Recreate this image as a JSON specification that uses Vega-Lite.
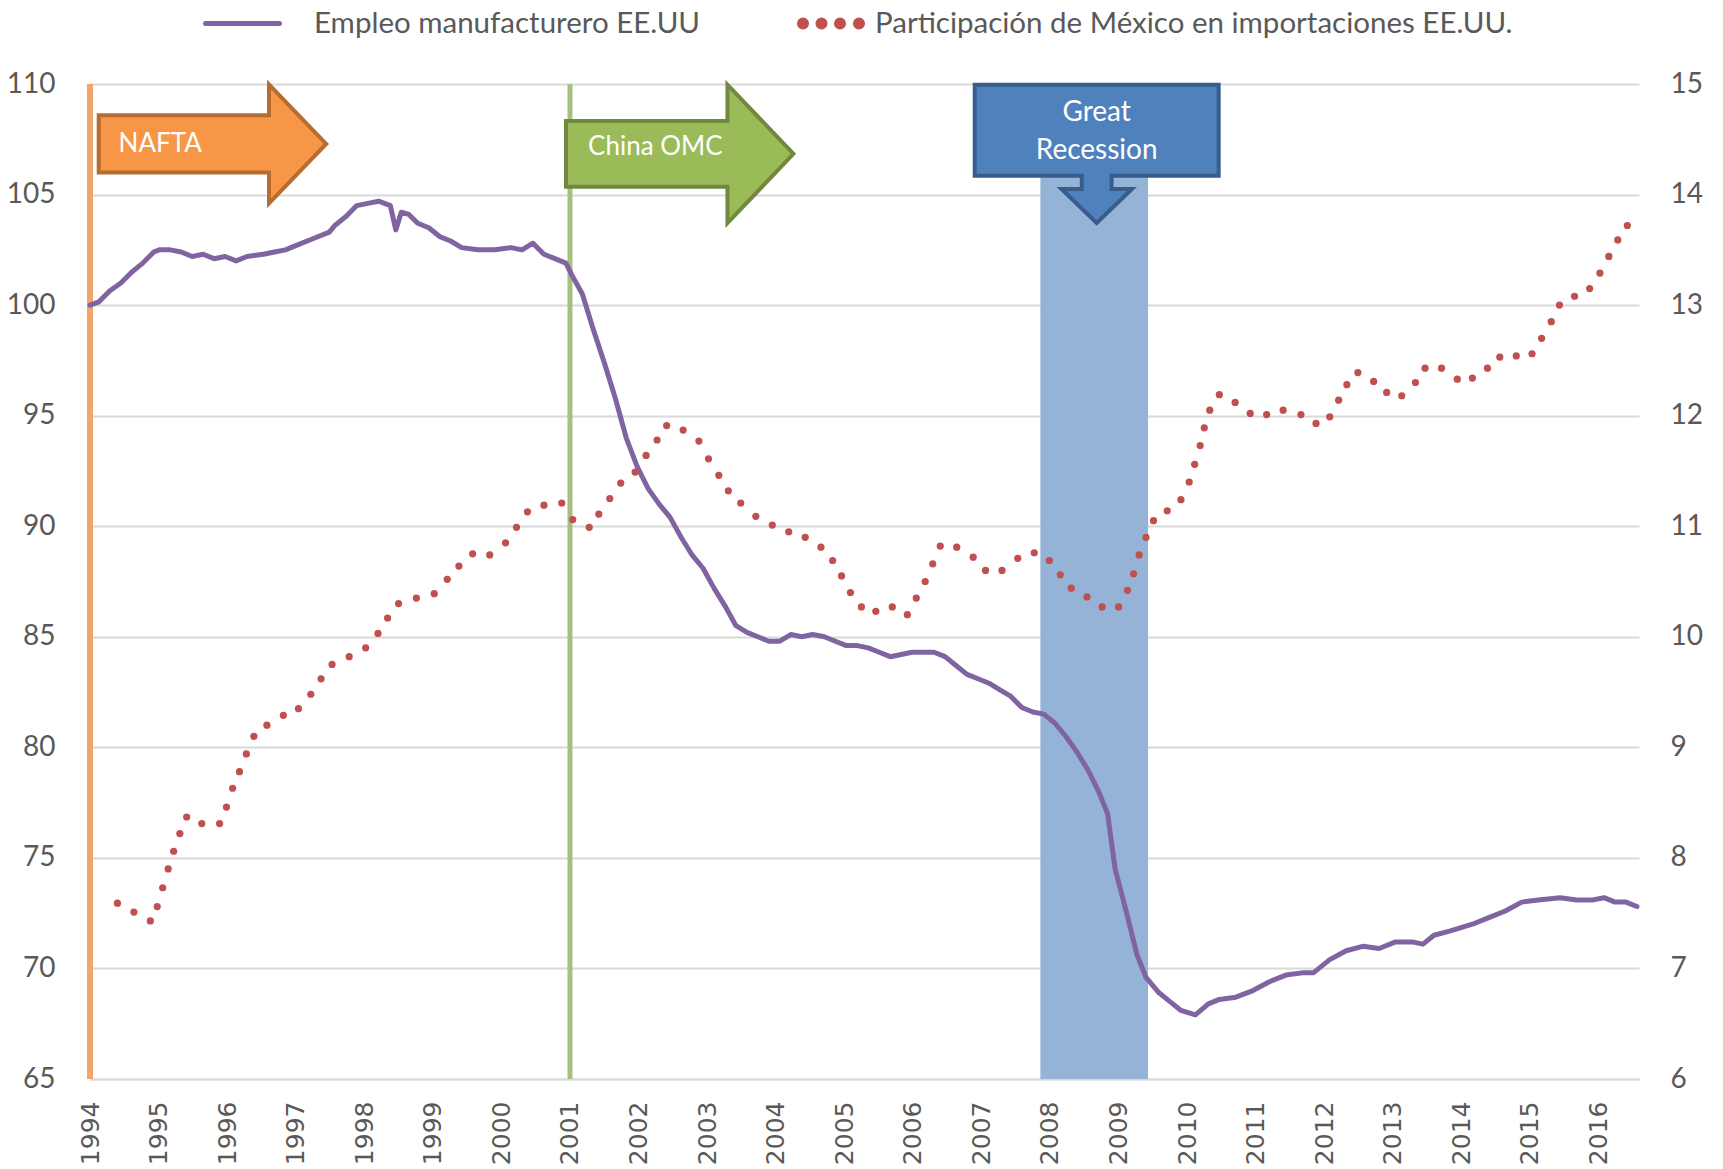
{
  "$schema": "https://vega.github.io/schema/vega-lite/v6.json",
  "autosize": "none",
  "width": 1549,
  "height": 995,
  "padding": {"left": 90, "top": 84, "right": 84, "bottom": 90},
  "background": "white",
  "config": {
    "view": {"stroke": null},
    "axisLeft": {"grid": true, "gridColor": "#D9D9D9", "gridWidth": 2, "domain": false, "ticks": false, "labelPadding": 35, "labelFont": "Lato", "labelFontSize": 28, "labelColor": "#595959", "title": null},
    "axisRight": {"grid": false, "domain": false, "ticks": false, "labelPadding": 31, "labelFont": "Lato", "labelFontSize": 28, "labelColor": "#595959", "title": null},
    "axisBottom": {"grid": false, "domain": true, "domainColor": "#D9D9D9", "domainWidth": 2, "ticks": false, "labelPadding": 22, "labelFont": "DejaVu Sans", "labelFontSize": 25, "labelColor": "#595959", "title": null}
  },
  "datasets": {
    "empleo": [
      {"anio": 1994.00, "v": 100.0}, {"anio": 1994.13, "v": 100.15}, {"anio": 1994.29, "v": 100.65}, {"anio": 1994.45, "v": 101.0},
      {"anio": 1994.61, "v": 101.5}, {"anio": 1994.77, "v": 101.9}, {"anio": 1994.93, "v": 102.4}, {"anio": 1995.01, "v": 102.5},
      {"anio": 1995.17, "v": 102.5}, {"anio": 1995.33, "v": 102.4}, {"anio": 1995.49, "v": 102.2}, {"anio": 1995.65, "v": 102.3},
      {"anio": 1995.81, "v": 102.1}, {"anio": 1995.97, "v": 102.2}, {"anio": 1996.13, "v": 102.0}, {"anio": 1996.29, "v": 102.2},
      {"anio": 1996.53, "v": 102.3}, {"anio": 1996.69, "v": 102.4}, {"anio": 1996.85, "v": 102.5}, {"anio": 1997.01, "v": 102.7},
      {"anio": 1997.25, "v": 103.0}, {"anio": 1997.49, "v": 103.3}, {"anio": 1997.57, "v": 103.6}, {"anio": 1997.73, "v": 104.0},
      {"anio": 1997.89, "v": 104.5}, {"anio": 1998.05, "v": 104.6}, {"anio": 1998.21, "v": 104.7}, {"anio": 1998.38, "v": 104.5},
      {"anio": 1998.46, "v": 103.4}, {"anio": 1998.54, "v": 104.2}, {"anio": 1998.65, "v": 104.1}, {"anio": 1998.78, "v": 103.7},
      {"anio": 1998.94, "v": 103.5}, {"anio": 1999.10, "v": 103.1}, {"anio": 1999.26, "v": 102.9}, {"anio": 1999.42, "v": 102.6},
      {"anio": 1999.66, "v": 102.5}, {"anio": 1999.90, "v": 102.5}, {"anio": 2000.14, "v": 102.6}, {"anio": 2000.30, "v": 102.5},
      {"anio": 2000.46, "v": 102.8}, {"anio": 2000.62, "v": 102.3}, {"anio": 2000.78, "v": 102.1}, {"anio": 2000.94, "v": 101.9},
      {"anio": 2001.02, "v": 101.4}, {"anio": 2001.18, "v": 100.5}, {"anio": 2001.34, "v": 98.9}, {"anio": 2001.50, "v": 97.4},
      {"anio": 2001.66, "v": 95.8}, {"anio": 2001.82, "v": 94.0}, {"anio": 2001.98, "v": 92.7}, {"anio": 2002.14, "v": 91.7},
      {"anio": 2002.30, "v": 91.0}, {"anio": 2002.46, "v": 90.4}, {"anio": 2002.62, "v": 89.5}, {"anio": 2002.78, "v": 88.7},
      {"anio": 2002.94, "v": 88.1}, {"anio": 2003.10, "v": 87.2}, {"anio": 2003.26, "v": 86.4}, {"anio": 2003.42, "v": 85.5},
      {"anio": 2003.58, "v": 85.2}, {"anio": 2003.74, "v": 85.0}, {"anio": 2003.90, "v": 84.8}, {"anio": 2004.06, "v": 84.8},
      {"anio": 2004.22, "v": 85.1}, {"anio": 2004.38, "v": 85.0}, {"anio": 2004.54, "v": 85.1}, {"anio": 2004.71, "v": 85.0},
      {"anio": 2004.87, "v": 84.8}, {"anio": 2005.03, "v": 84.6}, {"anio": 2005.19, "v": 84.6}, {"anio": 2005.35, "v": 84.5},
      {"anio": 2005.51, "v": 84.3}, {"anio": 2005.67, "v": 84.1}, {"anio": 2005.83, "v": 84.2}, {"anio": 2005.99, "v": 84.3},
      {"anio": 2006.15, "v": 84.3}, {"anio": 2006.31, "v": 84.3}, {"anio": 2006.47, "v": 84.1}, {"anio": 2006.63, "v": 83.7},
      {"anio": 2006.79, "v": 83.3}, {"anio": 2006.95, "v": 83.1}, {"anio": 2007.11, "v": 82.9}, {"anio": 2007.27, "v": 82.6},
      {"anio": 2007.43, "v": 82.3}, {"anio": 2007.59, "v": 81.8}, {"anio": 2007.75, "v": 81.6}, {"anio": 2007.91, "v": 81.5},
      {"anio": 2008.07, "v": 81.1}, {"anio": 2008.23, "v": 80.5}, {"anio": 2008.39, "v": 79.8}, {"anio": 2008.55, "v": 79.0},
      {"anio": 2008.71, "v": 78.0}, {"anio": 2008.84, "v": 77.0}, {"anio": 2008.95, "v": 74.5}, {"anio": 2009.11, "v": 72.6},
      {"anio": 2009.27, "v": 70.6}, {"anio": 2009.40, "v": 69.6}, {"anio": 2009.59, "v": 68.9}, {"anio": 2009.75, "v": 68.5},
      {"anio": 2009.91, "v": 68.1}, {"anio": 2010.12, "v": 67.9}, {"anio": 2010.31, "v": 68.4}, {"anio": 2010.47, "v": 68.6},
      {"anio": 2010.71, "v": 68.7}, {"anio": 2010.96, "v": 69.0}, {"anio": 2011.20, "v": 69.4}, {"anio": 2011.44, "v": 69.7},
      {"anio": 2011.68, "v": 69.8}, {"anio": 2011.84, "v": 69.8}, {"anio": 2012.08, "v": 70.4}, {"anio": 2012.32, "v": 70.8},
      {"anio": 2012.56, "v": 71.0}, {"anio": 2012.80, "v": 70.9}, {"anio": 2013.04, "v": 71.2}, {"anio": 2013.28, "v": 71.2},
      {"anio": 2013.44, "v": 71.1}, {"anio": 2013.60, "v": 71.5}, {"anio": 2013.84, "v": 71.7}, {"anio": 2014.16, "v": 72.0},
      {"anio": 2014.40, "v": 72.3}, {"anio": 2014.64, "v": 72.6}, {"anio": 2014.88, "v": 73.0}, {"anio": 2015.12, "v": 73.1},
      {"anio": 2015.44, "v": 73.2}, {"anio": 2015.68, "v": 73.1}, {"anio": 2015.92, "v": 73.1}, {"anio": 2016.08, "v": 73.2},
      {"anio": 2016.24, "v": 73.0}, {"anio": 2016.40, "v": 73.0}, {"anio": 2016.56, "v": 72.8}
    ],
    "mexico": [
      {"anio": 1994.40, "p": 7.59}, {"anio": 1994.64, "p": 7.51}, {"anio": 1994.88, "p": 7.43}, {"anio": 1994.98, "p": 7.56},
      {"anio": 1995.06, "p": 7.73}, {"anio": 1995.14, "p": 7.90}, {"anio": 1995.22, "p": 8.06}, {"anio": 1995.31, "p": 8.22},
      {"anio": 1995.41, "p": 8.37}, {"anio": 1995.63, "p": 8.31}, {"anio": 1995.89, "p": 8.31}, {"anio": 1995.99, "p": 8.46},
      {"anio": 1996.08, "p": 8.63}, {"anio": 1996.18, "p": 8.78}, {"anio": 1996.28, "p": 8.94}, {"anio": 1996.39, "p": 9.10},
      {"anio": 1996.58, "p": 9.20}, {"anio": 1996.82, "p": 9.29}, {"anio": 1997.04, "p": 9.35}, {"anio": 1997.22, "p": 9.48},
      {"anio": 1997.37, "p": 9.62}, {"anio": 1997.53, "p": 9.75}, {"anio": 1997.78, "p": 9.82}, {"anio": 1998.02, "p": 9.90},
      {"anio": 1998.20, "p": 10.03}, {"anio": 1998.34, "p": 10.17}, {"anio": 1998.50, "p": 10.30}, {"anio": 1998.76, "p": 10.35},
      {"anio": 1999.02, "p": 10.39}, {"anio": 1999.21, "p": 10.52}, {"anio": 1999.38, "p": 10.64}, {"anio": 1999.58, "p": 10.75},
      {"anio": 1999.83, "p": 10.74}, {"anio": 2000.06, "p": 10.85}, {"anio": 2000.22, "p": 10.99}, {"anio": 2000.38, "p": 11.13},
      {"anio": 2000.62, "p": 11.19}, {"anio": 2000.88, "p": 11.21}, {"anio": 2001.04, "p": 11.06}, {"anio": 2001.28, "p": 10.99},
      {"anio": 2001.42, "p": 11.11}, {"anio": 2001.58, "p": 11.25}, {"anio": 2001.74, "p": 11.39}, {"anio": 2001.95, "p": 11.49},
      {"anio": 2002.11, "p": 11.64}, {"anio": 2002.27, "p": 11.78}, {"anio": 2002.41, "p": 11.91}, {"anio": 2002.65, "p": 11.87},
      {"anio": 2002.88, "p": 11.77}, {"anio": 2003.02, "p": 11.61}, {"anio": 2003.17, "p": 11.46}, {"anio": 2003.31, "p": 11.32},
      {"anio": 2003.49, "p": 11.21}, {"anio": 2003.71, "p": 11.09}, {"anio": 2003.95, "p": 11.01}, {"anio": 2004.19, "p": 10.95},
      {"anio": 2004.43, "p": 10.90}, {"anio": 2004.66, "p": 10.81}, {"anio": 2004.83, "p": 10.69}, {"anio": 2004.96, "p": 10.55},
      {"anio": 2005.09, "p": 10.40}, {"anio": 2005.25, "p": 10.27}, {"anio": 2005.46, "p": 10.23}, {"anio": 2005.70, "p": 10.27},
      {"anio": 2005.92, "p": 10.20}, {"anio": 2006.05, "p": 10.35}, {"anio": 2006.18, "p": 10.50}, {"anio": 2006.29, "p": 10.66},
      {"anio": 2006.40, "p": 10.82}, {"anio": 2006.64, "p": 10.81}, {"anio": 2006.88, "p": 10.72}, {"anio": 2007.06, "p": 10.60},
      {"anio": 2007.30, "p": 10.60}, {"anio": 2007.53, "p": 10.71}, {"anio": 2007.77, "p": 10.76}, {"anio": 2007.99, "p": 10.69},
      {"anio": 2008.15, "p": 10.56}, {"anio": 2008.31, "p": 10.44}, {"anio": 2008.54, "p": 10.36}, {"anio": 2008.76, "p": 10.27},
      {"anio": 2009.00, "p": 10.27}, {"anio": 2009.13, "p": 10.42}, {"anio": 2009.22, "p": 10.57}, {"anio": 2009.30, "p": 10.74},
      {"anio": 2009.40, "p": 10.90}, {"anio": 2009.51, "p": 11.05}, {"anio": 2009.71, "p": 11.14}, {"anio": 2009.91, "p": 11.24},
      {"anio": 2010.03, "p": 11.40}, {"anio": 2010.11, "p": 11.56}, {"anio": 2010.19, "p": 11.73}, {"anio": 2010.25, "p": 11.89},
      {"anio": 2010.33, "p": 12.05}, {"anio": 2010.47, "p": 12.19}, {"anio": 2010.70, "p": 12.12}, {"anio": 2010.92, "p": 12.02},
      {"anio": 2011.16, "p": 12.01}, {"anio": 2011.40, "p": 12.05}, {"anio": 2011.66, "p": 12.01}, {"anio": 2011.88, "p": 11.93},
      {"anio": 2012.08, "p": 11.99}, {"anio": 2012.21, "p": 12.14}, {"anio": 2012.33, "p": 12.28}, {"anio": 2012.49, "p": 12.39},
      {"anio": 2012.72, "p": 12.31}, {"anio": 2012.91, "p": 12.21}, {"anio": 2013.13, "p": 12.18}, {"anio": 2013.33, "p": 12.30},
      {"anio": 2013.47, "p": 12.43}, {"anio": 2013.71, "p": 12.43}, {"anio": 2013.94, "p": 12.33}, {"anio": 2014.16, "p": 12.34},
      {"anio": 2014.38, "p": 12.43}, {"anio": 2014.56, "p": 12.53}, {"anio": 2014.80, "p": 12.54}, {"anio": 2015.03, "p": 12.56},
      {"anio": 2015.17, "p": 12.70}, {"anio": 2015.31, "p": 12.85}, {"anio": 2015.43, "p": 13.00}, {"anio": 2015.65, "p": 13.08},
      {"anio": 2015.87, "p": 13.15}, {"anio": 2016.02, "p": 13.29}, {"anio": 2016.15, "p": 13.44}, {"anio": 2016.28, "p": 13.59},
      {"anio": 2016.42, "p": 13.72}
    ],
    "eventos": [
      {"evento": "NAFTA", "anio": 1994.0},
      {"evento": "China OMC", "anio": 2001.0}
    ],
    "recesion": [
      {"evento": "Great Recession", "inicio": 2007.86, "fin": 2009.43}
    ],
    "flechas": [
      {"nombre": "NAFTA", "anio": 1995.786, "v": 107.29},
      {"nombre": "China OMC", "anio": 2002.600, "v": 106.84},
      {"nombre": "Great Recession", "anio": 2008.681, "v": 106.84}
    ],
    "textos": [
      {"texto": "NAFTA", "anio": 1994.417, "v": 107.29},
      {"texto": "China OMC", "anio": 2001.263, "v": 107.14},
      {"texto": "Great", "anio": 2008.681, "v": 108.68},
      {"texto": "Recession", "anio": 2008.681, "v": 106.99}
    ]
  },
  "layer": [
    {
      "layer": [
        {
          "data": {"name": "recesion"},
          "mark": {"type": "rect", "color": "#95B3D7", "opacity": 1},
          "encoding": {
            "x": {"field": "inicio", "type": "quantitative", "scale": {"domain": [1994, 2016.59], "nice": false, "zero": false}},
            "x2": {"field": "fin"}
          }
        },
        {
          "data": {"name": "eventos"},
          "transform": [{"filter": "datum.evento == 'NAFTA'"}],
          "mark": {"type": "rule", "color": "#F2A46A", "strokeWidth": 6},
          "encoding": {"x": {"field": "anio", "type": "quantitative"}}
        },
        {
          "data": {"name": "eventos"},
          "transform": [{"filter": "datum.evento == 'China OMC'"}],
          "mark": {"type": "rule", "color": "#A6C080", "strokeWidth": 5},
          "encoding": {"x": {"field": "anio", "type": "quantitative"}}
        },
        {
          "data": {"name": "empleo"},
          "mark": {"type": "line", "strokeWidth": 5, "strokeJoin": "round", "strokeCap": "round"},
          "encoding": {
            "x": {"field": "anio", "type": "quantitative", "axis": {"values": [1994,1995,1996,1997,1998,1999,2000,2001,2002,2003,2004,2005,2006,2007,2008,2009,2010,2011,2012,2013,2014,2015,2016], "format": "d", "labelAngle": 270, "title": null}},
            "y": {"field": "v", "type": "quantitative", "scale": {"domain": [65, 110], "nice": false, "zero": false}, "axis": {"orient": "left", "values": [65,70,75,80,85,90,95,100,105,110], "title": null}},
            "color": {
              "datum": "Empleo manufacturero EE.UU",
              "scale": {"domain": ["Empleo manufacturero EE.UU", "Participación de México en importaciones EE.UU."], "range": ["#8064A2", "#C0504D"]},
              "legend": {
                "orient": "none", "legendX": 136, "legendY": -100, "direction": "horizontal", "title": null,
                "symbolSize": 5476, "labelOffset": 9, "columnPadding": 86,
                "labelFont": "Lato", "labelFontSize": 29.5, "labelColor": "#595959", "labelLimit": 0,
                "encode": {
                  "symbols": {
                    "update": {
                      "shape": {"signal": "datum.value == 'Empleo manufacturero EE.UU' ? 'M-1.62,0 L0.378,0' : 'M-0.7296,0 A0.0946,0.0946 0 1,0 -0.5404,0 A0.0946,0.0946 0 1,0 -0.7296,0 Z M-0.2296,0 A0.0946,0.0946 0 1,0 -0.0404,0 A0.0946,0.0946 0 1,0 -0.2296,0 Z M0.2704,0 A0.0946,0.0946 0 1,0 0.4596,0 A0.0946,0.0946 0 1,0 0.2704,0 Z M0.7834,0 A0.0946,0.0946 0 1,0 0.9726,0 A0.0946,0.0946 0 1,0 0.7834,0 Z'"},
                      "stroke": {"signal": "datum.value == 'Empleo manufacturero EE.UU' ? '#8064A2' : 'transparent'"},
                      "fill": {"signal": "datum.value == 'Empleo manufacturero EE.UU' ? 'transparent' : '#C0504D'"},
                      "strokeWidth": {"value": 5},
                      "strokeCap": {"value": "round"},
                      "opacity": {"value": 1}
                    }
                  }
                }
              }
            }
          }
        },
        {
          "data": {"name": "flechas"},
          "transform": [{"filter": "datum.nombre == 'NAFTA'"}],
          "mark": {"type": "point", "filled": true, "opacity": 1, "shape": "M-1,-0.251 L0.497,-0.251 L0.497,-0.522 L1,0 L0.497,0.522 L0.497,0.251 L-1,0.251 Z", "size": 51756, "fill": "#F79646", "stroke": "#B66D31", "strokeWidth": 4, "strokeJoin": "miter"},
          "encoding": {
            "x": {"field": "anio", "type": "quantitative"},
            "y": {"field": "v", "type": "quantitative"}
          }
        },
        {
          "data": {"name": "flechas"},
          "transform": [{"filter": "datum.nombre == 'China OMC'"}],
          "mark": {"type": "point", "filled": true, "opacity": 1, "shape": "M-1,-0.29 L0.42,-0.29 L0.42,-0.609 L1,0 L0.42,0.609 L0.42,0.29 L-1,0.29 Z", "size": 51711, "fill": "#9BBB59", "stroke": "#71893F", "strokeWidth": 4, "strokeJoin": "miter"},
          "encoding": {
            "x": {"field": "anio", "type": "quantitative"},
            "y": {"field": "v", "type": "quantitative"}
          }
        },
        {
          "data": {"name": "flechas"},
          "transform": [{"filter": "datum.nombre == 'Great Recession'"}],
          "mark": {"type": "point", "filled": true, "opacity": 1, "shape": "M-1,-0.567 L1,-0.567 L1,0.18 L0.122,0.18 L0.122,0.288 L0.289,0.288 L0,0.567 L-0.289,0.288 L-0.122,0.288 L-0.122,0.18 L-1,0.18 Z", "size": 59536, "fill": "#4F81BD", "stroke": "#385D8A", "strokeWidth": 4, "strokeJoin": "miter"},
          "encoding": {
            "x": {"field": "anio", "type": "quantitative"},
            "y": {"field": "v", "type": "quantitative"}
          }
        },
        {
          "data": {"name": "textos"},
          "transform": [{"filter": "datum.texto == 'NAFTA' || datum.texto == 'China OMC'"}],
          "mark": {"type": "text", "align": "left", "baseline": "middle", "font": "Lato", "fontSize": 26, "color": "white"},
          "encoding": {
            "x": {"field": "anio", "type": "quantitative"},
            "y": {"field": "v", "type": "quantitative"},
            "text": {"field": "texto"}
          }
        },
        {
          "data": {"name": "textos"},
          "transform": [{"filter": "datum.texto == 'Great' || datum.texto == 'Recession'"}],
          "mark": {"type": "text", "align": "center", "baseline": "middle", "font": "Lato", "fontSize": 28, "color": "white"},
          "encoding": {
            "x": {"field": "anio", "type": "quantitative"},
            "y": {"field": "v", "type": "quantitative"},
            "text": {"field": "texto"}
          }
        }
      ]
    },
    {
      "data": {"name": "mexico"},
      "mark": {"type": "point", "filled": true, "opacity": 1, "size": 52, "strokeWidth": 0},
      "encoding": {
        "x": {"field": "anio", "type": "quantitative"},
        "y": {"field": "p", "type": "quantitative", "scale": {"domain": [6, 15], "nice": false, "zero": false}, "axis": {"orient": "right", "values": [6,7,8,9,10,11,12,13,14,15], "title": null}},
        "color": {"datum": "Participación de México en importaciones EE.UU."}
      }
    }
  ],
  "resolve": {"scale": {"y": "independent"}}
}
